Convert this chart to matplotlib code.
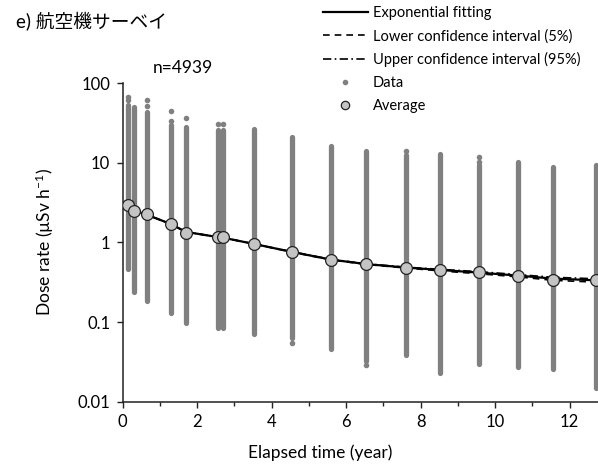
import matplotlib
matplotlib.use("Agg")
from matplotlib import pyplot as plt
from matplotlib.lines import Line2D

plt.rcParams['font.family'] = ['Lato', 'Noto Sans CJK JP', 'DejaVu Sans']
plt.rcParams['mathtext.fontset'] = 'custom'
plt.rcParams['mathtext.rm'] = 'Lato'
plt.rcParams['mathtext.it'] = 'Lato:italic'

# survey times (year) and per-survey spread of dose rate (uSv/h)
survey_t = [0.13, 0.30, 0.64, 1.30, 1.69, 2.55, 2.69, 3.52, 4.55, 5.59,
            6.54, 7.60, 8.52, 9.57, 10.62, 11.55, 12.70]
data_min = [0.47, 0.24, 0.186, 0.129, 0.098, 0.085, 0.085, 0.071, 0.064, 0.046,
            0.032, 0.039, 0.023, 0.030, 0.027, 0.026, 0.015]
data_max = [53, 50.8, 44, 30, 28.5, 25.9, 26, 26.4, 21.0, 16.4,
            14.2, 12.4, 12.8, 9.4, 10.2, 8.8, 9.4]
# isolated dots beyond the dense part of each column
extra_t = [0.13, 0.13, 0.64, 0.64, 1.30, 1.30, 1.69, 2.55, 2.69,
           4.55, 6.54, 7.60, 9.57, 9.57]
extra_v = [67, 62, 61.6, 52.3, 45.3, 33.9, 37, 30.5, 31,
           0.055, 0.029, 14.2, 12.0, 10.4]

avg = [2.96, 2.49, 2.26, 1.69, 1.33, 1.16, 1.16, 0.957, 0.753, 0.60,
       0.532, 0.483, 0.452, 0.422, 0.383, 0.338, 0.34]

fit_t = [0.0, 0.13, 0.30, 0.64, 1.30, 1.69, 2.55, 2.69, 3.52, 4.55, 5.59,
         6.54, 7.60, 8.52, 9.57, 10.62, 11.55, 12.70, 14.0]
fit = [3.05, 2.92, 2.52, 2.24, 1.70, 1.36, 1.17, 1.15, 0.96, 0.76, 0.61,
       0.535, 0.485, 0.452, 0.418, 0.384, 0.352, 0.335, 0.32]
lower = [3.05, 2.92, 2.52, 2.24, 1.70, 1.36, 1.17, 1.15, 0.96, 0.755, 0.605,
         0.53, 0.478, 0.44, 0.405, 0.37, 0.335, 0.318, 0.30]
upper = [3.05, 2.92, 2.52, 2.24, 1.70, 1.36, 1.17, 1.15, 0.96, 0.765, 0.615,
         0.54, 0.49, 0.46, 0.43, 0.395, 0.366, 0.35, 0.34]

grey = '#808080'

fig = plt.figure(figsize=(5.98, 4.70), dpi=100)
ax = fig.add_axes([0.2052, 0.1453, 0.872, 0.6775])

ax.vlines(survey_t, data_min, data_max, colors=grey, linewidth=3.8,
          capstyle='round', zorder=1)
ax.scatter(extra_t, extra_v, s=16, color=grey, linewidths=0, zorder=1)

ax.plot(fit_t, lower, color='black', lw=1.2, ls=(0, (4, 3)), zorder=2)
ax.plot(fit_t, upper, color='black', lw=1.2, ls=(0, (5, 2, 1, 2)), zorder=2)
ax.plot(fit_t, fit, color='black', lw=1.6, zorder=3)
ax.plot(survey_t, avg, ls='none', marker='o', ms=8.5, mfc='#c4c4c4',
        mec='#222222', mew=0.9, zorder=4)

ax.set_yscale('log')
ax.set_ylim(0.01, 100)
ax.set_xlim(0, 14)
ax.set_yticks([0.01, 0.1, 1, 10, 100])
ax.set_yticklabels(['0.01', '0.1', '1', '10', '100'])
ax.minorticks_off()
ax.set_xticks([0, 2, 4, 6, 8, 10, 12])
ax.set_xticks([1, 3, 5, 7, 9, 11, 13], minor=True)
ax.tick_params(axis='both', which='major', length=4, width=1, labelsize=12,
               color='#222222', pad=5)
ax.tick_params(axis='x', which='minor', length=3, width=1, color='#222222')
ax.tick_params(axis='y', which='minor', length=0)

for side in ['top', 'right']:
    ax.spines[side].set_visible(False)
for side in ['left', 'bottom']:
    ax.spines[side].set_linewidth(1.1)
    ax.spines[side].set_color('#222222')

fig.text(320 / 598, 1 - 453 / 470, 'Elapsed time (year)', ha='center',
         va='center', fontsize=12.5)
fig.text(45 / 598, 1 - 242 / 470, r'Dose rate (µSv h$^{-1}$)', ha='center',
         va='center', rotation=90, fontsize=12.5)
fig.text(16 / 598, 1 - 22 / 470, 'e) 航空機サーベイ', ha='left', va='center',
         fontsize=13.5)
fig.text(183 / 598, 1 - 68 / 470, 'n=4939', ha='center', va='center',
         fontsize=12.5)

handles = [
    Line2D([], [], color='black', lw=1.6),
    Line2D([], [], color='black', lw=1.2, ls=(0, (4, 3))),
    Line2D([], [], color='black', lw=1.2, ls=(0, (5, 2, 1, 2))),
    Line2D([], [], ls='none', marker='o', ms=3, mfc=grey, mec=grey),
    Line2D([], [], ls='none', marker='o', ms=6, mfc='#c4c4c4',
           mec='#222222', mew=0.9),
]
labels = ['Exponential fitting', 'Lower confidence interval (5%)',
          'Upper confidence interval (95%)', 'Data', 'Average']
fig.legend(handles, labels, loc='upper left',
           bbox_to_anchor=(314 / 598, 1.005), frameon=False, fontsize=10.5,
           handlelength=3.1, handletextpad=0.35, labelspacing=0.6,
           borderaxespad=0.2)

fig.savefig('out.png', dpi=100)
